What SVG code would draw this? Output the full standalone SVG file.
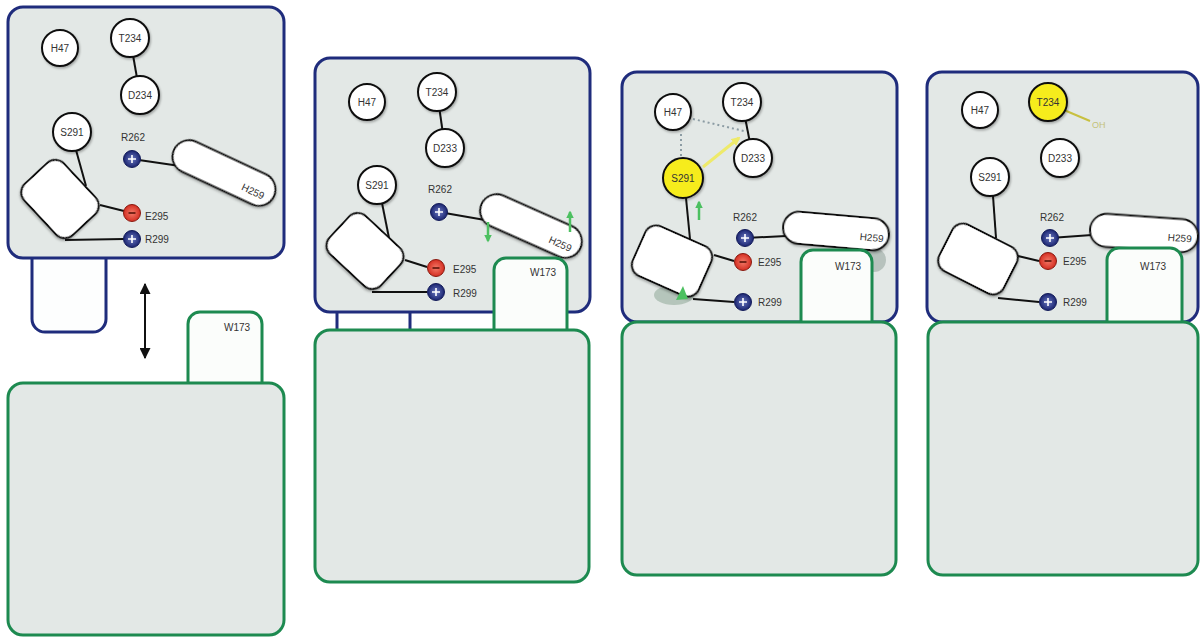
<svg xmlns="http://www.w3.org/2000/svg" width="1200" height="637" viewBox="0 0 1200 637">
<defs>
<style>
.bb{fill:#e3e8e6;stroke:#1f2c7c;stroke-width:3}
.gb{fill:#e3e8e6;stroke:#1d8a50;stroke-width:3}
.bsm{fill:#fdfefe;stroke:#1f2c7c;stroke-width:3}
.gsm{fill:#fbfdfb;stroke:#1d8a50;stroke-width:3}
.res{fill:#fff;stroke:#111;stroke-width:2;filter:url(#sh)}
.yres{fill:#f6ec1e;stroke:#111;stroke-width:2;filter:url(#sh)}
.ln{stroke:#111;stroke-width:2;fill:none}
.t{font-family:"Liberation Sans",Arial,sans-serif;font-size:10px;fill:#333}
.c{text-anchor:middle}
.pos{fill:url(#gblue);stroke:#141c5a;stroke-width:1}
.neg{fill:url(#gred);stroke:#8a1a10;stroke-width:1}
.plus{stroke:#fff;stroke-width:1.6}
.minus{stroke:#5a1208;stroke-width:1.6}
.dot{stroke:#8c9ca4;stroke-width:2;stroke-dasharray:2 3;fill:none}
.garr{stroke:#4cc060;stroke-width:2.5;fill:none}
</style>
<radialGradient id="gblue" cx="50%" cy="50%" r="50%"><stop offset="0" stop-color="#6a78c0"/><stop offset="1" stop-color="#1a2470"/></radialGradient>
<radialGradient id="gred" cx="50%" cy="50%" r="50%"><stop offset="0" stop-color="#f37a68"/><stop offset="1" stop-color="#d42e22"/></radialGradient>
<filter id="sh" x="-30%" y="-30%" width="160%" height="160%"><feDropShadow dx="1" dy="1.5" stdDeviation="1.2" flood-color="#000" flood-opacity="0.3"/></filter>
<marker id="ah" viewBox="0 0 10 10" refX="9" refY="5" markerWidth="5.5" markerHeight="5.5" orient="auto-start-reverse"><path d="M0,0 L10,5 L0,10 z" fill="#111"/></marker>
<marker id="ga" viewBox="0 0 10 10" refX="8" refY="5" markerWidth="3" markerHeight="3" orient="auto"><path d="M0,0 L10,5 L0,10 z" fill="#4cc060"/></marker>
<marker id="ya" viewBox="0 0 10 10" refX="8" refY="5" markerWidth="3" markerHeight="3" orient="auto"><path d="M0,0 L10,5 L0,10 z" fill="#eeea6a"/></marker>
</defs>

<!-- ================= PANEL 1 ================= -->
<g id="p1-bluesmall"><rect class="bsm" x="32" y="240" width="74" height="92" rx="13"/></g>
<g id="p1-bluebox"><rect class="bb" x="8" y="7" width="276" height="251" rx="15"/></g>
<g id="p1-W173"><rect class="gsm" x="188" y="312" width="74" height="85" rx="12"/><text class="t c" x="237" y="331">W173</text></g>
<g id="p1-greenbox"><rect class="gb" x="8" y="383" width="276" height="252" rx="15"/></g>

<g id="p1-connectors">
<line class="ln" x1="130" y1="38" x2="140" y2="95"/>
<line class="ln" x1="76" y1="150" x2="86" y2="186"/>
<line class="ln" x1="132" y1="159" x2="180" y2="166"/>
<line class="ln" x1="100" y1="205" x2="124" y2="211"/>
<line class="ln" x1="65" y1="240" x2="124" y2="239"/>
<line class="ln" x1="145" y1="284" x2="145" y2="358" marker-start="url(#ah)" marker-end="url(#ah)"/>
</g>
<g id="p1-H47"><circle class="res" cx="60" cy="48" r="18"/><text class="t c" x="60" y="51.5">H47</text></g>
<g id="p1-T234"><circle class="res" cx="130" cy="38" r="19"/><text class="t c" x="130" y="41.5">T234</text></g>
<g id="p1-D234"><circle class="res" cx="140" cy="95" r="19"/><text class="t c" x="140" y="98.5">D234</text></g>
<g id="p1-S291"><circle class="res" cx="72" cy="132" r="19"/><text class="t c" x="72" y="135.5">S291</text></g>
<g id="p1-core"><rect class="res" x="-35" y="-27" width="70" height="54" rx="12" transform="translate(60,199) rotate(47)"/></g>
<g id="p1-H259" transform="translate(224,173) rotate(25)"><rect class="res" x="-55" y="-16.5" width="110" height="33" rx="16.5"/><text class="t" x="46" y="8" text-anchor="end">H259</text></g>
<g id="p1-R262"><circle class="pos" cx="132" cy="159" r="8.5"/><path class="plus" d="M128,159h8M132,155v8"/><text class="t c" x="133" y="141">R262</text></g>
<g id="p1-E295"><circle class="neg" cx="132" cy="213" r="8.5"/><path class="minus" d="M128.5,213h7"/><text class="t" x="145" y="220">E295</text></g>
<g id="p1-R299"><circle class="pos" cx="132" cy="239" r="8.5"/><path class="plus" d="M128,239h8M132,235v8"/><text class="t" x="145" y="243">R299</text></g>

<!-- ================= PANEL 2 ================= -->
<g id="p2-bluesmall"><rect class="bsm" x="337" y="290" width="73" height="60" rx="12"/></g>
<g id="p2-bluebox"><rect class="bb" x="315" y="58" width="275" height="254" rx="15"/></g>
<g id="p2-connectors">
<line class="ln" x1="437" y1="92" x2="445" y2="148"/>
<line class="ln" x1="382" y1="203" x2="389" y2="238"/>
<line class="ln" x1="439" y1="212" x2="485" y2="220"/>
<line class="ln" x1="405" y1="260" x2="427" y2="267"/>
<line class="ln" x1="372" y1="292" x2="427" y2="292"/>
</g>
<g id="p2-H47"><circle class="res" cx="367" cy="102" r="18"/><text class="t c" x="367" y="105.5">H47</text></g>
<g id="p2-T234"><circle class="res" cx="437" cy="92" r="19"/><text class="t c" x="437" y="95.5">T234</text></g>
<g id="p2-D233"><circle class="res" cx="445" cy="148" r="19"/><text class="t c" x="445" y="151.5">D233</text></g>
<g id="p2-S291"><circle class="res" cx="377" cy="185" r="19"/><text class="t c" x="377" y="188.5">S291</text></g>
<g id="p2-core"><rect class="res" x="-35" y="-26" width="70" height="52" rx="12" transform="translate(365,251) rotate(43)"/></g>
<g id="p2-H259" transform="translate(531,226) rotate(24)"><rect class="res" x="-54" y="-16.5" width="108" height="33" rx="16.5"/><text class="t" x="46" y="8" text-anchor="end">H259</text></g>
<g id="p2-moves">
<line class="garr" x1="488" y1="222" x2="488" y2="241" marker-end="url(#ga)"/>
<line class="garr" x1="570" y1="232" x2="570" y2="212" marker-end="url(#ga)"/>
</g>
<g id="p2-R262"><circle class="pos" cx="439" cy="212" r="8.5"/><path class="plus" d="M435,212h8M439,208v8"/><text class="t c" x="440" y="193">R262</text></g>
<g id="p2-E295"><circle class="neg" cx="436" cy="268" r="8.5"/><path class="minus" d="M432.5,268h7"/><text class="t" x="453" y="273">E295</text></g>
<g id="p2-R299"><circle class="pos" cx="436" cy="292" r="8.5"/><path class="plus" d="M432,292h8M436,288v8"/><text class="t" x="453" y="297">R299</text></g>
<g id="p2-W173"><rect class="gsm" x="494" y="258" width="73" height="85" rx="12"/><text class="t c" x="543" y="276">W173</text></g>
<g id="p2-greenbox"><rect class="gb" x="315" y="330" width="274" height="252" rx="15"/></g>

<!-- ================= PANEL 3 ================= -->
<g id="p3-bluebox"><rect class="bb" x="622" y="72" width="275" height="250" rx="15"/></g>
<g id="p3-shadows">
<ellipse cx="674" cy="295" rx="20" ry="10" fill="#90a898" opacity="0.55"/>
<circle cx="874" cy="260" r="12" fill="#9aa8a2" opacity="0.6"/>
</g>
<g id="p3-connectors">
<line class="ln" x1="742" y1="102" x2="753" y2="158"/>
<line class="dot" x1="693" y1="119" x2="744" y2="131"/>
<line class="dot" x1="681" y1="134" x2="681" y2="158"/>
<line x1="703" y1="167" x2="739" y2="138" stroke="#eeea6a" stroke-width="3" marker-end="url(#ya)"/>
<line class="ln" x1="686" y1="198" x2="690" y2="239"/>
<line class="ln" x1="745" y1="238" x2="786" y2="236"/>
<line class="ln" x1="714" y1="255" x2="734" y2="261"/>
<line class="ln" x1="693" y1="299" x2="734" y2="302"/>
</g>
<g id="p3-H47"><circle class="res" cx="673" cy="112" r="18"/><text class="t c" x="673" y="115.5">H47</text></g>
<g id="p3-T234"><circle class="res" cx="742" cy="102" r="19"/><text class="t c" x="742" y="105.5">T234</text></g>
<g id="p3-D233"><circle class="res" cx="753" cy="158" r="19"/><text class="t c" x="753" y="161.5">D233</text></g>
<g id="p3-S291"><circle class="yres" cx="683" cy="178" r="20"/><text class="t c" x="683" y="181.5">S291</text></g>
<g id="p3-core"><rect class="res" x="-36" y="-27" width="72" height="54" rx="12" transform="translate(672,261) rotate(24)"/></g>
<g id="p3-moves">
<line class="garr" x1="699" y1="220" x2="699" y2="202" marker-end="url(#ga)"/>
<path d="M676,300 L683,286 L688,299 z" fill="#4cc060"/>
</g>
<g id="p3-H259" transform="translate(836,231) rotate(5)"><rect class="res" x="-53" y="-16" width="106" height="32" rx="16"/><text class="t" x="48" y="7" text-anchor="end">H259</text></g>
<g id="p3-R262"><circle class="pos" cx="745" cy="238" r="8.5"/><path class="plus" d="M741,238h8M745,234v8"/><text class="t c" x="745" y="221">R262</text></g>
<g id="p3-E295"><circle class="neg" cx="743" cy="262" r="8.5"/><path class="minus" d="M739.5,262h7"/><text class="t" x="758" y="266">E295</text></g>
<g id="p3-R299"><circle class="pos" cx="743" cy="302" r="8.5"/><path class="plus" d="M739,302h8M743,298v8"/><text class="t" x="758" y="306">R299</text></g>
<g id="p3-W173"><rect class="gsm" x="801" y="250" width="71" height="85" rx="12"/><text class="t c" x="848" y="270">W173</text></g>
<g id="p3-greenbox"><rect class="gb" x="622" y="322" width="274" height="253" rx="15"/></g>

<!-- ================= PANEL 4 ================= -->
<g id="p4-bluebox"><rect class="bb" x="927" y="72" width="271" height="250" rx="15"/></g>
<g id="p4-connectors">
<line x1="1064" y1="110" x2="1090" y2="121" stroke="#c8c040" stroke-width="2"/>
<line class="ln" x1="993" y1="196" x2="996" y2="238"/>
<line class="ln" x1="1050" y1="238" x2="1092" y2="235"/>
<line class="ln" x1="1018" y1="256" x2="1039" y2="261"/>
<line class="ln" x1="998" y1="298" x2="1039" y2="302"/>
</g>
<g id="p4-OH"><text x="1092" y="128" font-family="Liberation Sans, Arial, sans-serif" font-size="9" fill="#c4c27a">OH</text></g>
<g id="p4-H47"><circle class="res" cx="980" cy="110" r="18"/><text class="t c" x="980" y="113.5">H47</text></g>
<g id="p4-T234"><circle class="yres" cx="1048" cy="102" r="19"/><text class="t c" x="1048" y="105.5">T234</text></g>
<g id="p4-D233"><circle class="res" cx="1060" cy="158" r="19"/><text class="t c" x="1060" y="161.5">D233</text></g>
<g id="p4-S291"><circle class="res" cx="990" cy="177" r="19"/><text class="t c" x="990" y="180.5">S291</text></g>
<g id="p4-core"><rect class="res" x="-36" y="-26" width="72" height="52" rx="12" transform="translate(978,259) rotate(27)"/></g>
<g id="p4-H259" transform="translate(1144,233) rotate(4)"><rect class="res" x="-54" y="-16.5" width="108" height="33" rx="16.5"/><text class="t" x="48" y="6" text-anchor="end">H259</text></g>
<g id="p4-R262"><circle class="pos" cx="1050" cy="238" r="8.5"/><path class="plus" d="M1046,238h8M1050,234v8"/><text class="t c" x="1052" y="221">R262</text></g>
<g id="p4-E295"><circle class="neg" cx="1048" cy="261" r="8.5"/><path class="minus" d="M1044.5,261h7"/><text class="t" x="1063" y="265">E295</text></g>
<g id="p4-R299"><circle class="pos" cx="1048" cy="302" r="8.5"/><path class="plus" d="M1044,302h8M1048,298v8"/><text class="t" x="1063" y="306">R299</text></g>
<g id="p4-W173"><rect class="gsm" x="1107" y="248" width="75" height="87" rx="12"/><text class="t c" x="1153" y="270">W173</text></g>
<g id="p4-greenbox"><rect class="gb" x="928" y="322" width="270" height="253" rx="15"/></g>
</svg>
